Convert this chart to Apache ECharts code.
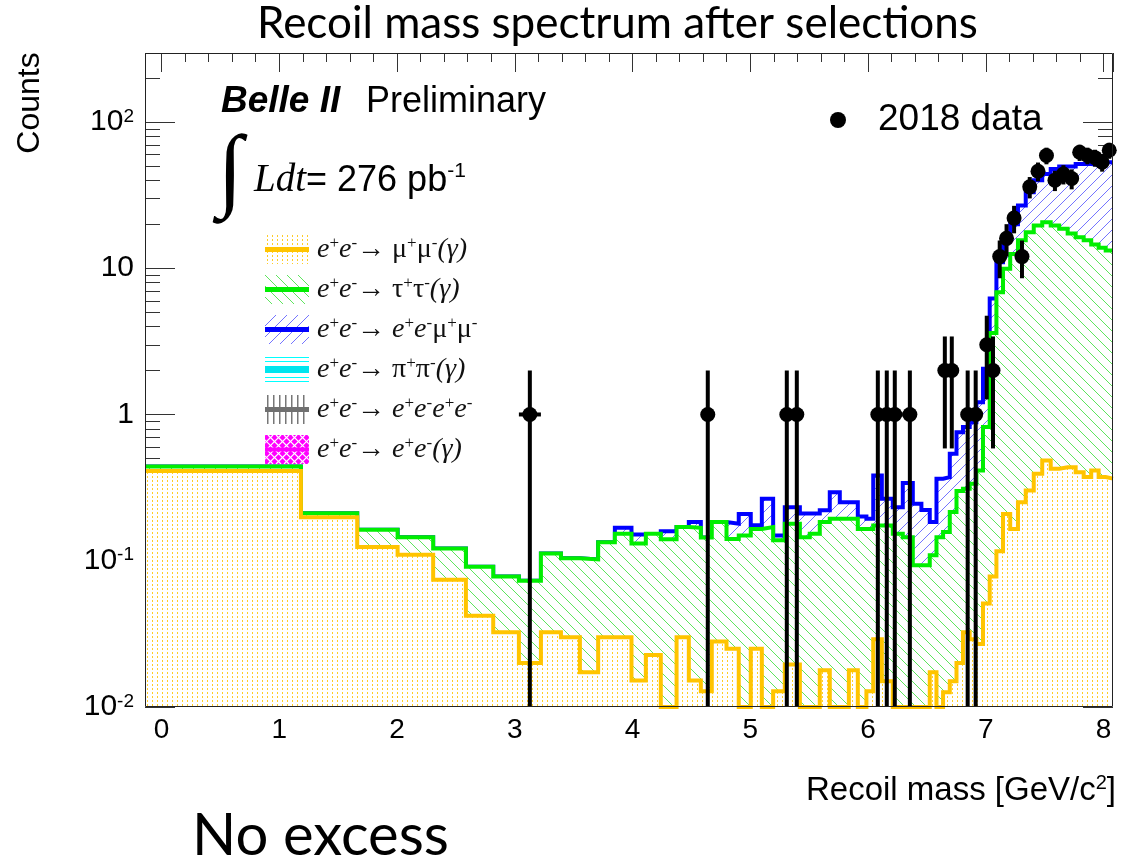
<!DOCTYPE html>
<html>
<head>
<meta charset="utf-8">
<title>Recoil mass spectrum after selections</title>
<script src="https://cdn.jsdelivr.net/npm/echarts@6.0.0/dist/echarts.min.js"></script>
<style>
  html, body { margin: 0; padding: 0; background: #ffffff; }
  #chart { width: 1122px; height: 862px; }
</style>
</head>
<body>
<div id="chart"></div>
<script>
// ---- Histogram binning: recoil mass [GeV/c^2], variable-width bins ----
const binEdges = [-0.14, 1.184, 1.662, 2.005, 2.307, 2.585, 2.817, 3.035, 3.222, 3.392, 3.553,
  3.708, 3.850, 3.991, 4.113, 4.240, 4.374, 4.478, 4.580, 4.673, 4.798, 4.902, 5.004, 5.098,
  5.194, 5.293, 5.421, 5.505, 5.590, 5.675, 5.760, 5.837, 5.913, 5.986, 6.044, 6.117, 6.210,
  6.295, 6.380, 6.453, 6.524, 6.581, 6.637, 6.694, 6.751, 6.806, 6.863, 6.920, 6.976, 7.033,
  7.090, 7.146, 7.207, 7.273, 7.339, 7.407, 7.479, 7.551, 7.623, 7.695, 7.763, 7.831, 7.895,
  7.958, 8.018, 8.08];

// ---- Stacked MC expectation, cumulative counts per bin ----
// e+e- -> mu+mu-(gamma)
const stackMuMu = [0.41, 0.198, 0.124, 0.110, 0.074, 0.042, 0.0325, 0.020, 0.0325, 0.030, 0.0173,
  0.030, 0.030, 0.0152, 0.0227, 0.01, 0.030, 0.0152, 0.0128, 0.028, 0.025, 0.01, 0.025, 0.01,
  0.0128, 0.0195, 0.01, 0.01, 0.0178, 0.01, 0.01, 0.0178, 0.01, 0.0128, 0.029, 0.015, 0.01,
  0.01, 0.01, 0.01, 0.0173, 0.01, 0.0126, 0.015, 0.02, 0.0325, 0.029, 0.027, 0.051, 0.078,
  0.116, 0.209, 0.165, 0.251, 0.302, 0.393, 0.485, 0.425, 0.436, 0.436, 0.403, 0.373, 0.414,
  0.373, 0.364];
// ... + e+e- -> tau+tau-(gamma)
const stackTauTau = [0.441, 0.211, 0.163, 0.145, 0.121, 0.091, 0.078, 0.073, 0.112, 0.104,
  0.102, 0.134, 0.153, 0.131, 0.153, 0.140, 0.170, 0.168, 0.144, 0.184,
  0.141, 0.149, 0.165, 0.170, 0.138, 0.179, 0.145, 0.153, 0.184, 0.194,
  0.194, 0.194, 0.165, 0.165, 0.174, 0.174, 0.153, 0.145, 0.093, 0.093,
  0.109, 0.145, 0.157, 0.215, 0.30, 0.311, 0.336, 0.414, 0.82, 3.6,
  6.85, 9.9, 12.5, 15.5, 17.6, 19.6, 20.6, 19.6, 18.6, 17.3,
  16.3, 15.5, 14.5, 13.8, 13.2];
// ... + e+e- -> e+e-mu+mu-
const stackEEMuMu = [0.441, 0.211, 0.163, 0.145, 0.121, 0.091, 0.078, 0.073, 0.112, 0.104,
  0.102, 0.134, 0.168, 0.151, 0.153, 0.159, 0.170, 0.184, 0.144, 0.184,
  0.179, 0.209, 0.175, 0.265, 0.149, 0.232, 0.21, 0.21, 0.221, 0.294,
  0.251, 0.251, 0.201, 0.194, 0.383, 0.265, 0.232, 0.34, 0.245, 0.222,
  0.184, 0.364, 0.373, 0.539, 0.757, 0.82, 0.886, 1.21, 2.05, 6.2,
  11, 15.5, 20, 26.8, 33, 40, 44, 47.6, 49.5, 49.5,
  51.5, 51.5, 51, 53, 53];

// ---- 2018 data: bin position and event count ----
const dataMass = [3.128, 4.639, 5.310, 5.395, 6.083, 6.159, 6.227, 6.355, 6.652, 6.711, 6.846,
  6.914, 7.008, 7.061, 7.118, 7.176, 7.240, 7.307, 7.373, 7.443, 7.515, 7.587, 7.659, 7.729,
  7.797, 7.863, 7.927, 7.988, 8.048];
const dataCounts = [1, 1, 1, 1, 1, 1, 1, 1, 2, 2, 1, 1, 3, 2, 12, 16, 22, 12, 36, 46, 59, 40,
  44, 41, 62, 59, 57, 53, 64];

// ---- Axis ranges and labels ----
const X_MIN = -0.14, X_MAX = 8.08;
const Y_MIN = 0.01, Y_MAX = 296;
const xTickLabels = ['0', '1', '2', '3', '4', '5', '6', '7', '8'];
const yTickLabels = { '-2': '10{sup|-2}', '-1': '10{sup|-1}', '0': '1', '1': '10', '2': '10{sup|2}' };

// Process names for the legend
const procNames = ['e+e- → μ+μ-(γ)', 'e+e- → τ+τ-(γ)', 'e+e- → e+e-μ+μ-',
  'e+e- → π+π-(γ)', 'e+e- → e+e-e+e-', 'e+e- → e+e-(γ)'];
const procLabels = [
  'e{s|+}e{s|-}→ {u|μ}{s|+}{u|μ}{s|-}(γ)',
  'e{s|+}e{s|-}→ {u|τ}{s|+}{u|τ}{s|-}(γ)',
  'e{s|+}e{s|-}→ e{s|+}e{s|-}{u|μ}{s|+}{u|μ}{s|-}',
  'e{s|+}e{s|-}→ {u|π}{s|+}{u|π}{s|-}(γ)',
  'e{s|+}e{s|-}→ e{s|+}e{s|-}e{s|+}e{s|-}',
  'e{s|+}e{s|-}→ e{s|+}e{s|-}(γ)'
];
const dataName = '2018 data';

// ---- Fill patterns ----
function tile(w, h, draw, bg) {
  const c = document.createElement('canvas');
  c.width = w; c.height = h;
  const g = c.getContext('2d');
  if (bg) { g.fillStyle = bg; g.fillRect(0, 0, w, h); }
  draw(g, w, h);
  return c;
}
const dotsTile = tile(5, 4, (g) => { g.fillStyle = 'rgba(255,196,0,0.85)'; g.fillRect(2, 0, 1, 2); }, '#ffffff');
const greenTile = tile(11, 11, (g, w, h) => {
  g.strokeStyle = 'rgba(40,220,40,0.75)'; g.lineWidth = 1;
  g.beginPath(); g.moveTo(-1, -1); g.lineTo(w + 1, h + 1); g.stroke();
}, '#ffffff');
const blueTile = tile(11, 11, (g, w, h) => {
  g.strokeStyle = 'rgba(70,70,255,0.75)'; g.lineWidth = 1;
  g.beginPath(); g.moveTo(-1, h + 1); g.lineTo(w + 1, -1); g.stroke();
}, '#ffffff');

// Legend swatches: pattern box with the process line colour through the middle
function swatch(fill, lineColor, lineH) {
  const c = tile(44, 29, (g, w, h) => {
    fill(g, w, h);
    g.fillStyle = lineColor;
    g.fillRect(0, (h - lineH) / 2, w, lineH);
  }, '#ffffff');
  return 'image://' + c.toDataURL();
}
function patternFill(t) {
  return (g, w, h) => { g.fillStyle = g.createPattern(t, 'repeat'); g.fillRect(0, 0, w, h); };
}
const legendIcons = [
  swatch(patternFill(dotsTile), '#ffc400', 5),
  swatch(patternFill(greenTile), '#00ee00', 5),
  swatch(patternFill(blueTile), '#0000ff', 5),
  swatch((g, w) => {
    g.fillStyle = '#00ffff';
    [2, 6, 22, 26].forEach(y => g.fillRect(0, y, w, 1));
  }, '#00e5ee', 7),
  swatch((g, w, h) => {
    g.fillStyle = '#777777';
    for (let x = 2; x < w; x += 6) g.fillRect(x, 0, 1.5, h);
  }, '#707070', 5),
  swatch((g, w, h) => {
    g.fillStyle = '#ff00ff'; g.fillRect(0, 0, w, h);
    g.strokeStyle = '#ffffff'; g.lineWidth = 1.2;
    for (let x = -h; x < w + h; x += 8) {
      g.beginPath(); g.moveTo(x, 0); g.lineTo(x + h, h); g.stroke();
      g.beginPath(); g.moveTo(x + h, 0); g.lineTo(x, h); g.stroke();
    }
  }, '#ff00ff', 4)
];

// ---- Helpers ----
function stepPoints(values) {
  const pts = [];
  values.forEach((v, i) => { pts.push([binEdges[i], v]); pts.push([binEdges[i + 1], v]); });
  return pts;
}
function binOf(m) {
  for (let i = 0; i < binEdges.length - 1; i++) {
    if (m >= binEdges[i] && m < binEdges[i + 1]) return [binEdges[i], binEdges[i + 1]];
  }
  return [m, m];
}
// Log-axis ticks for both frame edges: decades long, 2..9 x 10^k short
const yFrameTicks = [];
for (let e = -2; e <= 2; e++) {
  for (let k = 1; k <= 9; k++) {
    const v = k * Math.pow(10, e);
    if (v < Y_MAX) yFrameTicks.push([X_MIN, v, k === 1 ? 30 : 15]);
  }
}

function histSeries(name, values, lineColor, tileCanvas, z) {
  return {
    name, type: 'line', z,
    data: stepPoints(values),
    symbol: 'none', showSymbol: false,
    lineStyle: { color: lineColor, width: 4, join: 'miter' },
    itemStyle: { color: lineColor },
    areaStyle: { color: { image: tileCanvas, repeat: 'repeat' }, opacity: 1, origin: 'start' },
    clip: true, silent: true
  };
}

const chart = echarts.init(document.getElementById('chart'), null, { renderer: 'canvas' });

const sansFont = 'Liberation Sans';
const option = {
  animation: false,
  backgroundColor: '#ffffff',
  title: {
    text: 'Recoil mass spectrum after selections',
    left: 257, top: -2, padding: 0,
    textStyle: { fontFamily: 'Lato', fontSize: 44, fontWeight: 'normal', color: '#000', lineHeight: 52 }
  },
  grid: { left: 145, top: 53, width: 968, height: 654, show: false },
  xAxis: [
    {
      type: 'value', min: X_MIN, max: X_MAX, splitNumber: 8, position: 'bottom',
      axisLine: { show: false }, axisTick: { show: false }, splitLine: { show: false },
      axisLabel: {
        fontFamily: sansFont, fontSize: 28, color: '#000', margin: 9,
        formatter: v => {
          const r = Math.round(v);
          return (Math.abs(v - r) < 1e-6 && r >= 0 && r < xTickLabels.length) ? xTickLabels[r] : '';
        }
      }
    },
    {
      type: 'value', min: X_MIN, max: X_MAX, splitNumber: 8, position: 'top',
      axisLine: { show: false }, splitLine: { show: false }, axisLabel: { show: false },
      axisTick: { show: true, inside: true, length: 19, lineStyle: { color: '#333', width: 1 } },
      minorTick: { show: true, splitNumber: 5, length: 9, lineStyle: { color: '#333', width: 1 } }
    }
  ],
  yAxis: [
    {
      type: 'log', logBase: 10, min: Y_MIN, max: Y_MAX, position: 'left',
      axisLine: { show: false }, splitLine: { show: false }, axisTick: { show: false },
      axisLabel: {
        fontFamily: sansFont, fontSize: 30, color: '#000', margin: 11,
        formatter: v => {
          const l = Math.log10(v), e = Math.round(l);
          if (Math.abs(l - e) > 1e-6) return '';
          return yTickLabels[String(e)] || '';
        },
        rich: { sup: { fontFamily: sansFont, fontSize: 19, lineHeight: 14, verticalAlign: 'top', color: '#000' } }
      }
    }
  ],
  legend: [
    {
      data: procNames.map((n, i) => ({ name: n, icon: legendIcons[i] })),
      orient: 'vertical', left: 265, top: 235, padding: 0,
      itemWidth: 44, itemHeight: 29, itemGap: 11,
      selectedMode: false,
      formatter: name => procLabels[procNames.indexOf(name)],
      textStyle: {
        fontFamily: 'Liberation Serif', fontStyle: 'italic', fontSize: 28, color: '#111', lineHeight: 29,
        padding: [0, 0, 0, 3],
        rich: {
          s: { fontFamily: 'Liberation Serif', fontStyle: 'normal', fontSize: 17, lineHeight: 14, verticalAlign: 'top', color: '#111' },
          u: { fontFamily: 'Liberation Serif', fontStyle: 'normal', fontSize: 28, lineHeight: 29, color: '#111' }
        }
      }
    },
    {
      data: [{ name: dataName, icon: 'circle' }],
      left: 830, top: 101, padding: 0, itemWidth: 16, itemHeight: 16, selectedMode: false,
      textStyle: { fontFamily: sansFont, fontSize: 37, color: '#000', lineHeight: 38, padding: [0, 0, 0, 27] }
    }
  ],
  graphic: [
    // plot frame on top of the filled histograms
    { type: 'rect', z: 100, silent: true, shape: { x: 145.5, y: 53.5, width: 967, height: 653 },
      style: { fill: 'none', stroke: '#222', lineWidth: 1 } },
    { type: 'text', z: 100, x: 221, y: 102, silent: true,
      style: { text: 'Belle II', font: 'italic bold 37px "Liberation Sans"', textVerticalAlign: 'middle', fill: '#000' } },
    { type: 'text', z: 100, x: 366, y: 102, silent: true,
      style: { text: 'Preliminary', font: '36px "Liberation Sans"', textVerticalAlign: 'middle', fill: '#000' } },
    { type: 'text', z: 100, x: 230, y: 175, silent: true,
      style: { text: '∫', font: '92px "Liberation Serif"', textAlign: 'center', textVerticalAlign: 'middle', fill: '#000' } },
    { type: 'text', z: 100, x: 254, y: 181, silent: true,
      style: { text: '{it|Ldt}{n|= 276 pb}{sup|-1}', textVerticalAlign: 'middle',
        rich: {
          it: { fontFamily: 'Liberation Serif', fontStyle: 'italic', fontSize: 39, lineHeight: 40, fill: '#000' },
          n: { fontFamily: sansFont, fontSize: 36, lineHeight: 40, fill: '#000' },
          sup: { fontFamily: sansFont, fontSize: 21, lineHeight: 22, verticalAlign: 'top', fill: '#000' }
        } } },
    { type: 'text', z: 100, x: 30, y: 103, rotation: Math.PI / 2, silent: true,
      style: { text: 'Counts', font: '32px "Liberation Sans"', textAlign: 'center', textVerticalAlign: 'middle', fill: '#000' } },
    { type: 'text', z: 100, x: 1116, y: 791, silent: true,
      style: { text: '{n|Recoil mass [GeV/c}{sup|2}{n|]}', textAlign: 'right', textVerticalAlign: 'middle',
        rich: {
          n: { fontFamily: sansFont, fontSize: 33, lineHeight: 36, fill: '#000' },
          sup: { fontFamily: sansFont, fontSize: 20, lineHeight: 18, verticalAlign: 'top', fill: '#000' }
        } } },
    { type: 'text', z: 100, x: 192, y: 836, silent: true,
      style: { text: 'No excess', font: '58px Lato', textVerticalAlign: 'middle', fill: '#000' } }
  ],
  series: [
    // log-axis ticks on the left and right frame edges (drawn under the histograms)
    {
      name: 'y frame ticks', type: 'custom', z: 1, silent: true,
      data: yFrameTicks,
      renderItem: (params, api) => {
        const cs = params.coordSys;
        const y = Math.round(api.coord([api.value(0), api.value(1)])[1]) + 0.5;
        const len = api.value(2);
        return { type: 'group', children: [
          { type: 'line', shape: { x1: cs.x, y1: y, x2: cs.x + len, y2: y }, style: { stroke: '#333', lineWidth: 1 } },
          { type: 'line', shape: { x1: cs.x + cs.width - len, y1: y, x2: cs.x + cs.width, y2: y }, style: { stroke: '#333', lineWidth: 1 } }
        ] };
      }
    },
    histSeries(procNames[2], stackEEMuMu, '#0000ff', blueTile, 2),
    histSeries(procNames[1], stackTauTau, '#00ee00', greenTile, 3),
    histSeries(procNames[0], stackMuMu, '#ffc400', dotsTile, 4),
    { name: procNames[3], type: 'line', data: [], itemStyle: { color: '#00ffff' } },
    { name: procNames[4], type: 'line', data: [], itemStyle: { color: '#777777' } },
    { name: procNames[5], type: 'line', data: [], itemStyle: { color: '#ff00ff' } },
    // Poisson error bars of the data, bin width as horizontal bar
    {
      name: 'data errors', type: 'custom', z: 10, silent: true,
      data: dataMass.map((m, i) => [m, dataCounts[i]]),
      renderItem: (params, api) => {
        const m = api.value(0), n = api.value(1);
        const err = Math.sqrt(n);
        const lo = Math.max(n - err, Y_MIN), hi = n + err;
        const top = api.coord([m, hi]), bot = api.coord([m, lo]);
        const b = binOf(m);
        const l = api.coord([b[0], n]), r = api.coord([b[1], n]);
        return { type: 'group', children: [
          { type: 'line', shape: { x1: top[0], y1: top[1], x2: bot[0], y2: bot[1] }, style: { stroke: '#000', lineWidth: 4 } },
          { type: 'line', shape: { x1: l[0], y1: l[1], x2: r[0], y2: r[1] }, style: { stroke: '#000', lineWidth: 4 } }
        ] };
      }
    },
    {
      name: dataName, type: 'scatter', z: 11, silent: true,
      data: dataMass.map((m, i) => [m, dataCounts[i]]),
      symbol: 'circle', symbolSize: 15,
      itemStyle: { color: '#000', opacity: 1 }
    }
  ]
};
chart.setOption(option);
</script>
</body>
</html>
